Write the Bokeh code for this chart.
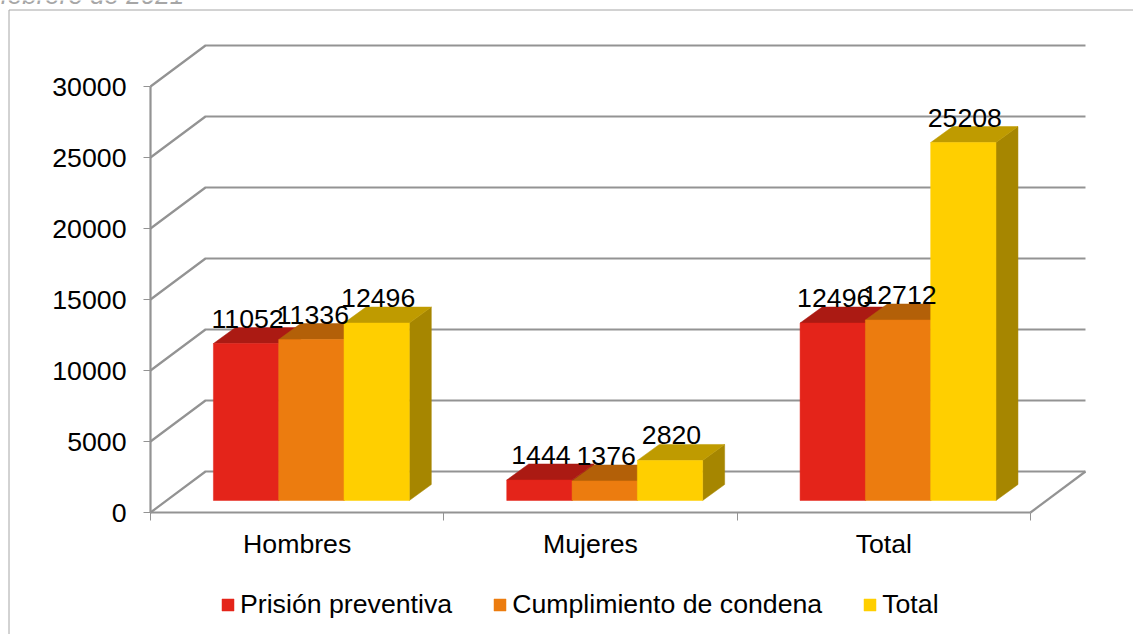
from bokeh.plotting import figure
from bokeh.models import LinearAxis, FixedTicker, Range1d, Legend, LegendItem
from bokeh.core.properties import value
from bokeh.embed import file_html
from bokeh.resources import INLINE

categories = ["Hombres", "Mujeres", "Total"]
series_names = ["Prisión preventiva", "Cumplimiento de condena", "Total"]
prision = [11052, 1444, 12496]
cumplimiento = [11336, 1376, 12712]
total = [12496, 2820, 25208]
y_ticks = [0, 5000, 10000, 15000, 20000, 25000, 30000]
title_fragment = "febrero de 2021"

FONT = "Liberation Sans"
FS = "26.7px"
W, H = 1133, 634
X0, Y0 = 150, 512            # pixel position of the chart origin
PX_CAT = 293.33              # pixels per category
PX_VAL = 426 / 30000         # pixels per unit
dx = lambda px: px / PX_CAT
dv = lambda px: px / PX_VAL
xp = lambda px: (px - X0) / PX_CAT
yp = lambda py: (Y0 - py) / PX_VAL

WALL_X, WALL_V = dx(55), dv(41)
FRONT_X, FRONT_V = dx(14.2), dv(12)
DEPTH_X, DEPTH_V = dx(22), dv(16)
BAR_W = 65.3 / PX_CAT
GROUP_PAD = (1 - 3 * BAR_W) / 2

p = figure(width=W, height=H, output_backend="svg", toolbar_location=None,
           x_axis_type=None, y_axis_type=None,
           x_range=Range1d(xp(0), xp(W)), y_range=Range1d(yp(H), yp(0)),
           min_border=0, min_border_left=0, min_border_right=0,
           min_border_top=0, min_border_bottom=0)
p.outline_line_color = None
p.background_fill_color = None
p.border_fill_color = None
p.margin = (0, 0, 0, 0)

# Outer border of the cropped slide object
p.line([xp(8.5), xp(8.5), xp(W)], [yp(H), yp(9.5), yp(9.5)], line_color="#a6a6a6", line_width=1)
p.text([xp(0)], [yp(-6)], text=[title_fragment], text_font=value(FONT), text_font_size="26px",
       text_font_style="italic", text_color="#a6a6a6", text_baseline="alphabetic", text_align="left")

# 3D walls
GRID = "#939393"
xs, ys = [], []
for t in y_ticks:
    xs.append([0, WALL_X, 3 + WALL_X])
    ys.append([t, t + WALL_V, t + WALL_V])
xs.append([3, 3 + WALL_X])
ys.append([0, WALL_V])
p.multi_line(xs, ys, line_color=GRID, line_width=2.2)

# 3D bars
palette = [
    ("#E4241A", "#AB1A13", "#98160F"),
    ("#EC7C0F", "#B36008", "#A35506"),
    ("#FFCF00", "#BF9B00", "#A68600"),
]
legend_items = []
for s, (vals, name, (front, top, side)) in enumerate(zip([prision, cumplimiento, total], series_names, palette)):
    fx, fy, tx, ty, sx, sy = [], [], [], [], [], []
    for c, v in enumerate(vals):
        l = c + GROUP_PAD + s * BAR_W + FRONT_X
        r = l + BAR_W
        b = FRONT_V
        h = v + FRONT_V
        fx.append([l, r, r, l]); fy.append([b, b, h, h])
        tx.append([l, r, r + DEPTH_X, l + DEPTH_X]); ty.append([h, h, h + DEPTH_V, h + DEPTH_V])
        sx.append([r, r + DEPTH_X, r + DEPTH_X, r]); sy.append([b, b + DEPTH_V, h + DEPTH_V, h])
    p.patches(sx, sy, fill_color=side, line_color=side, line_width=0.5)
    p.patches(tx, ty, fill_color=top, line_color=top, line_width=0.5)
    rf = p.patches(fx, fy, fill_color=front, line_color=front, line_width=0.5)
    legend_items.append(LegendItem(label=name, renderers=[rf]))

# Data labels
for s, vals in enumerate([prision, cumplimiento, total]):
    lx = [c + GROUP_PAD + (s + 0.5) * BAR_W + FRONT_X + dx(1.5) for c in range(3)]
    ly = [v + FRONT_V + dv(25) for v in vals]
    p.text(lx, ly, text=[str(v) for v in vals], text_font=value(FONT), text_font_size=FS,
           text_color="#000000", text_align="center", text_baseline="middle")

# Axes
yax = LinearAxis(fixed_location=0, bounds=(0, 30000), ticker=FixedTicker(ticks=y_ticks))
yax.axis_line_color = GRID
yax.axis_line_width = 2.2
yax.major_tick_line_color = GRID
yax.major_tick_line_width = 1
yax.major_tick_in = 0
yax.major_tick_out = 7
yax.minor_tick_line_color = None
yax.major_label_text_font = FONT
yax.major_label_text_font_size = FS
yax.major_label_text_color = "#000000"
yax.major_label_standoff = 17
p.add_layout(yax, "left")

centers = [c + 0.5 for c in range(3)]
xax = LinearAxis(fixed_location=0, bounds=(0, 3),
                 ticker=FixedTicker(ticks=centers, minor_ticks=[0, 1, 2, 3]),
                 major_label_overrides={c + 0.5: n for c, n in enumerate(categories)})
xax.axis_line_color = GRID
xax.axis_line_width = 2.2
xax.major_tick_line_color = None
xax.major_tick_in = 0
xax.major_tick_out = 0
xax.minor_tick_line_color = GRID
xax.minor_tick_line_width = 1
xax.minor_tick_in = 0
xax.minor_tick_out = 8
xax.major_label_text_font = FONT
xax.major_label_text_font_size = FS
xax.major_label_text_color = "#000000"
xax.major_label_standoff = 8
p.add_layout(xax, "below")

# Legend (pixel location measured from the bottom-left of the frame)
legend = Legend(items=legend_items, orientation="horizontal", location=(220, H - 620),
                glyph_width=15, glyph_height=15, label_standoff=5, spacing=40,
                padding=0, margin=0, border_line_color=None, background_fill_color=None,
                label_text_font=FONT, label_text_font_size=FS, label_text_color="#000000")
p.add_layout(legend, "center")

open("out.html", "w").write(file_html(p, INLINE))
